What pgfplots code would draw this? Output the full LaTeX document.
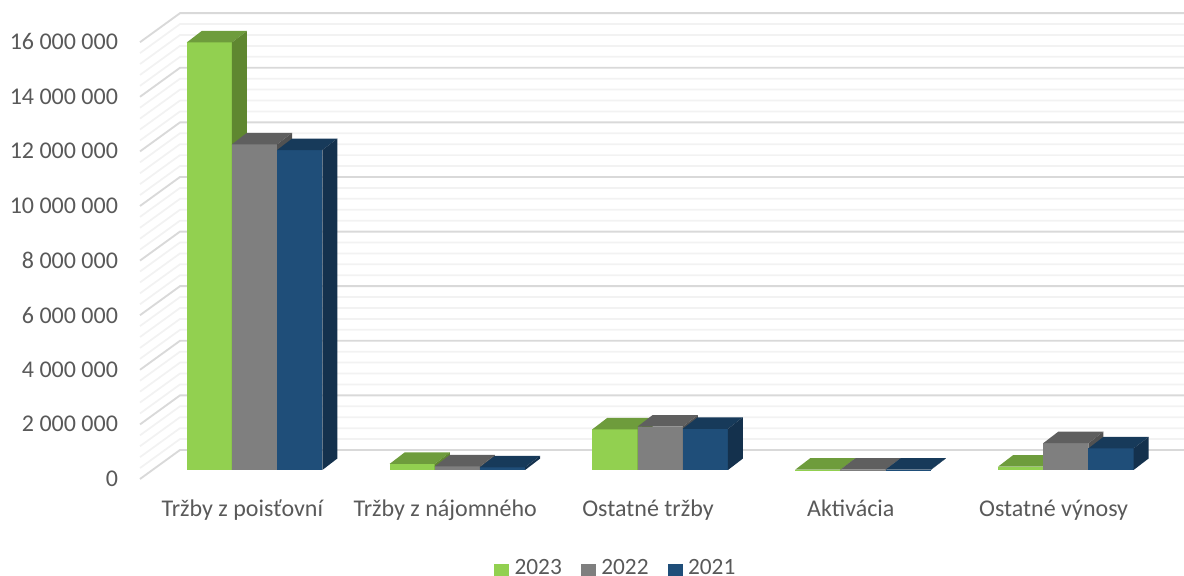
\documentclass[border=0pt]{standalone}
\usepackage{pgfplots}
\pgfplotsset{compat=1.18}
\usepackage{fontspec}
\setmainfont{Carlito}
\definecolor{txt}{HTML}{595959}
\definecolor{gmaj}{HTML}{D9D9D9}
\definecolor{gmin}{HTML}{F2F2F2}
\definecolor{fA}{HTML}{92D050}\definecolor{tA}{HTML}{6E9C3C}\definecolor{sA}{HTML}{5F8730}
\definecolor{fB}{HTML}{7F7F7F}\definecolor{tB}{HTML}{5F5F5F}\definecolor{sB}{HTML}{525252}
\definecolor{fC}{HTML}{1F4E79}\definecolor{tC}{HTML}{173A5A}\definecolor{sC}{HTML}{14314D}

% values in millions; x in category units (1 px = 1/202.8 cat, 0.03663 million)
\newcommand{\onebar}[3]{% left x, value, colour suffix
  \pgfmathsetmacro\xa{#1}
  \pgfmathsetmacro\xb{#1+0.2229}
  \pgfmathsetmacro\xc{#1+0.074}
  \pgfmathsetmacro\xd{#1+0.2969}
  \pgfmathsetmacro\yt{#2+0.421}
  \addplot[fill=f#3,draw=none,forget plot] coordinates {(\xa,0) (\xb,0) (\xb,#2) (\xa,#2)} --cycle;
  \addplot[fill=t#3,draw=none,forget plot] coordinates {(\xa,#2) (\xb,#2) (\xd,\yt) (\xc,\yt)} --cycle;
  \addplot[fill=s#3,draw=none,forget plot] coordinates {(\xb,0) (\xd,0.421) (\xd,\yt) (\xb,#2)} --cycle;
}
\newcommand{\group}[4]{% category, 2023, 2022, 2021
  \pgfmathsetmacro\ga{#1-0.3343}\pgfmathsetmacro\gb{#1-0.1114}\pgfmathsetmacro\gc{#1+0.1115}
  \edef\gaa{\ga}\edef\gbb{\gb}\edef\gcc{\gc}
  \onebar{\gaa}{#2}{A}
  \onebar{\gbb}{#3}{B}
  \onebar{\gcc}{#4}{C}
}
\newcommand{\wall}[3]{% value, colour, line width
  \pgfmathsetmacro\yf{#1-0.33}
  \pgfmathsetmacro\yb{#1+0.733}
  \addplot[#2,line width=#3,forget plot] coordinates {(-0.5646,\yf) (-0.3674,\yb) (4.60,\yb)};
}

\begin{document}
\begin{tikzpicture}
\begin{axis}[
    scale only axis, width=888pt, height=432pt,
    xmin=-1.255, xmax=4.583,
    ymin=-3.883, ymax=17.216,
    major tick length=0pt,
    tick style={draw=none},
    axis lines=left,
    axis line style={draw=none,-},
    xtick={-0.06,0.94,1.94,2.94,3.94},
    xticklabels={Tržby z poisťovní,Tržby z nájomného,Ostatné tržby,Aktivácia,Ostatné výnosy},
    xticklabel style={anchor=base,yshift=44.5pt,text=txt,font=\fontsize{18}{20}\selectfont},
    ytick={0,2,...,16},
    yticklabels={0,2 000 000,4 000 000,6 000 000,8 000 000,10 000 000,12 000 000,14 000 000,16 000 000},
    yticklabel style={anchor=east,xshift=92pt,yshift=-6.6pt,text=txt,font=\fontsize{18}{20}\selectfont},
    legend style={overlay,at={(370.5pt,-2.5pt)},anchor=south west,draw=none,fill=none,inner sep=0pt,outer sep=0pt,
      legend columns=-1,font=\fontsize{17.5}{19}\selectfont,text=txt,
      /tikz/every even column/.append style={column sep=12.2pt}},
    legend image code/.code={\fill[#1] (0,-7.35pt) rectangle (10.5pt,3.15pt); \path (13pt,0);},
]
\addlegendimage{fA}
\addlegendimage{fB}
\addlegendimage{fC}
\pgfplotsforeachungrouped \v in {0.4,0.8,1.2,1.6,2.4,2.8,3.2,3.6,4.4,4.8,5.2,5.6,6.4,6.8,7.2,7.6,8.4,8.8,9.2,9.6,10.4,10.8,11.2,11.6,12.4,12.8,13.2,13.6,14.4,14.8,15.2,15.6}{\wall{\v}{gmin}{1.3pt}}
\pgfplotsforeachungrouped \v in {0,2,4,6,8,10,12,14,16}{\wall{\v}{gmaj}{1.4pt}}
\group{0}{15.66}{11.93}{11.72}
\group{1}{0.22}{0.13}{0.10}
\group{2}{1.49}{1.59}{1.51}
\group{3}{0.01}{0.01}{0.01}
\group{4}{0.12}{0.98}{0.79}
\legend{2023,2022,2021}
\end{axis}
\end{tikzpicture}
\end{document}
